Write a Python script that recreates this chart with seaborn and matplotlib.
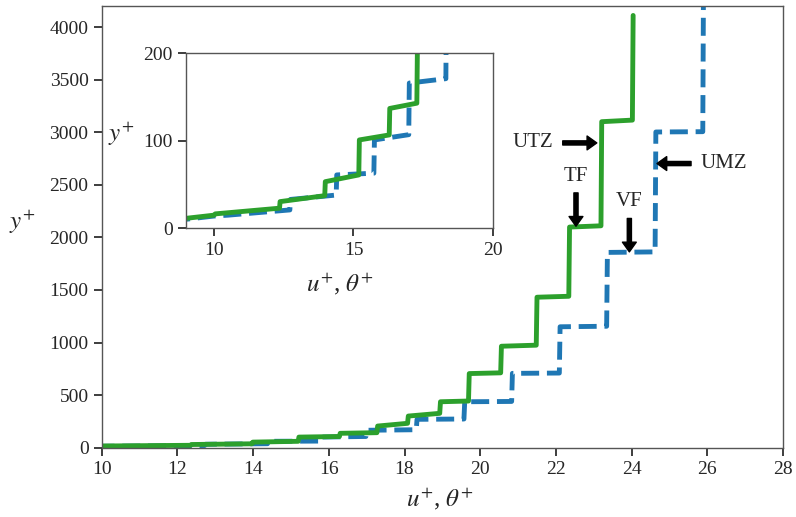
import numpy as np
import pandas as pd
import matplotlib
matplotlib.use('Agg')
import matplotlib.pyplot as plt
import seaborn as sns

# staircase corners of the two profiles (u+ / theta+ against y+)
theta_plus = [8.5, 9.0, 10.0, 10.05, 12.35, 12.37, 13.97, 13.99, 15.19, 15.21,
              16.28, 16.30, 17.27, 17.29, 18.08, 18.10, 18.93, 18.95, 19.69, 19.71,
              20.54, 20.56, 21.48, 21.50, 22.34, 22.36, 23.19, 23.21, 24.02, 24.04]
y_theta = [9.0, 11.4, 15.0, 16.5, 23.0, 30.5, 37.3, 53.3, 61.0, 101.0,
           106.7, 137.0, 143.0, 206.0, 232.0, 301.0, 327.0, 437.0, 444.0, 705.0,
           712.0, 965.0, 975.0, 1431.0, 1440.0, 2098.0, 2110.0, 3100.0, 3115.0, 4110.0]

u_plus = [8.5, 9.0, 10.0, 10.5, 12.72, 12.74, 14.38, 14.40, 15.73, 15.75,
          16.98, 17.00, 18.31, 18.33, 19.57, 19.59, 20.83, 20.85, 22.09, 22.11,
          23.34, 23.36, 24.62, 24.64, 25.88, 25.90]
y_u = [8.5, 10.3, 14.0, 15.0, 21.0, 33.0, 38.0, 61.0, 63.0, 101.0,
       107.0, 166.0, 171.0, 270.0, 273.0, 437.0, 440.0, 707.0, 710.0, 1150.0,
       1155.0, 1857.0, 1862.0, 3002.0, 3005.0, 4500.0]

# annotations: label, text position, arrow tail, arrow tip
labels = ['UTZ', 'TF', 'VF', 'UMZ']
text_pos = [(21.40, 2898), (22.53, 2575), (23.94, 2337), (26.43, 2702)]
tails = [(22.18, 2898), (22.53, 2423), (23.94, 2180), (25.57, 2702)]
tips = [(23.08, 2898), (22.53, 2106), (23.94, 1862), (24.67, 2702)]

df_t = pd.DataFrame({'x': theta_plus, 'y': y_theta})
df_u = pd.DataFrame({'x': u_plus, 'y': y_u})

sns.set_theme(style='ticks')
plt.rcParams['font.family'] = ['Liberation Serif', 'DejaVu Serif']
plt.rcParams['mathtext.fontset'] = 'stix'
plt.rcParams['xtick.labelsize'] = 14
plt.rcParams['ytick.labelsize'] = 14
plt.rcParams['axes.edgecolor'] = '#555555'
plt.rcParams['axes.linewidth'] = 1.0

blue = '#1f77b4'
green = '#2ca02c'

fig = plt.figure(figsize=(7.96, 5.17), dpi=100)
ax = fig.add_axes([0.1278, 0.134, 0.8559, 0.8544])


def draw(ax):
    sns.lineplot(data=df_u, x='x', y='y', sort=False, estimator=None, ax=ax,
                 color=blue, linestyle='--', linewidth=3.5)
    sns.lineplot(data=df_t, x='x', y='y', sort=False, estimator=None, ax=ax,
                 color=green, linewidth=3.5)


draw(ax)
ax.set_xlim(10, 28)
ax.set_ylim(0, 4200)
ax.set_xticks(np.arange(10, 29, 2))
ax.set_yticks(np.arange(0, 4001, 500))
ax.set_xlabel(r'$u^{+}$, $\theta^{+}$', fontsize=18)
ax.set_ylabel(r'$y^{+}$', fontsize=18, rotation=0)
ax.yaxis.set_label_coords(-0.117, 0.479)
ax.xaxis.set_label_coords(0.497, -0.085)

for lab, tp, tl, tip in zip(labels, text_pos, tails, tips):
    ax.text(tp[0], tp[1], lab, fontsize=15, ha='center', va='center')
    ax.annotate('', xy=tip, xytext=tl,
                arrowprops=dict(facecolor='black', edgecolor='black', width=3,
                                headwidth=10, headlength=7, shrink=0))

# inset zoom on the near-wall region
axin = fig.add_axes([0.2337, 0.5584, 0.3857, 0.3385])
draw(axin)
axin.set_xlim(9, 20)
axin.set_ylim(0, 200)
axin.set_xticks([10, 15, 20])
axin.set_yticks([0, 100, 200])
axin.set_xlabel(r'$u^{+}$, $\theta^{+}$', fontsize=18)
axin.set_ylabel(r'$y^{+}$', fontsize=18, rotation=0)
axin.yaxis.set_label_coords(-0.21, 0.46)
axin.xaxis.set_label_coords(0.5, -0.24)

plt.savefig('out.png', dpi=100)
plt.close()
